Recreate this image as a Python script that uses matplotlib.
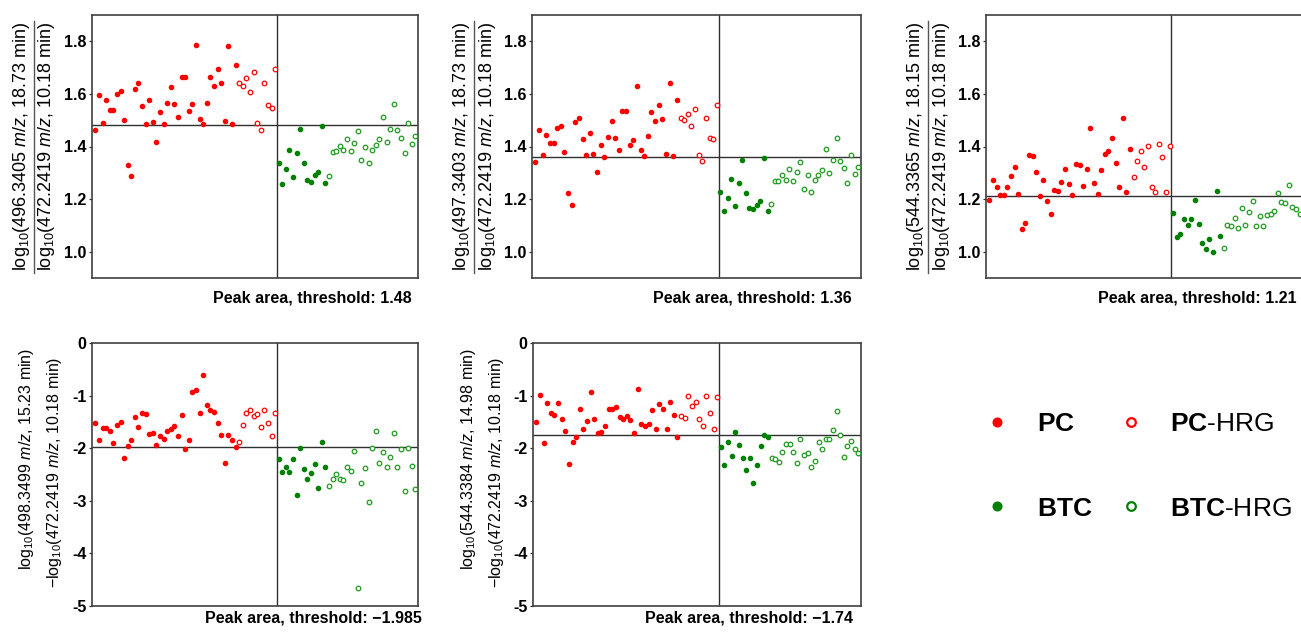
import numpy as np
import matplotlib
matplotlib.use("Agg")
import matplotlib.pyplot as plt
from matplotlib.lines import Line2D

plt.rcParams['font.family'] = ['Liberation Sans', 'DejaVu Sans']
plt.rcParams['mathtext.fontset'] = 'custom'
plt.rcParams['mathtext.rm'] = 'Liberation Sans'
plt.rcParams['mathtext.it'] = 'Liberation Sans:italic'
plt.rcParams['mathtext.bf'] = 'Liberation Sans:bold'
plt.rcParams['axes.unicode_minus'] = False

# ---- data ----
# panel 1 : 496.3405 m/z
p1_pc = [1.462, 1.594, 1.490, 1.578, 1.540, 1.538, 1.601, 1.611, 1.500, 1.331,
         1.286, 1.620, 1.641, 1.555, 1.486, 1.577, 1.495, 1.419, 1.530, 1.485,
         1.565, 1.627, 1.563, 1.514, 1.666, 1.666, 1.535, 1.561, 1.785, 1.505,
         1.486, 1.565, 1.664, 1.631, 1.695, 1.640, 1.496, 1.781, 1.485, 1.710]
p1_pc_hrg = [1.641, 1.630, 1.659, 1.607, 1.684, 1.490, 1.463, 1.641, 1.559, 1.546, 1.695]
p1_btc = [1.338, 1.259, 1.314, 1.387, 1.283, 1.375, 1.468, 1.336, 1.273, 1.265,
          1.290, 1.304, 1.478, 1.262]
p1_btc_hrg = [1.289, 1.379, 1.382, 1.403, 1.387, 1.429, 1.381, 1.413, 1.458, 1.348,
              1.400, 1.336, 1.387, 1.406, 1.430, 1.512, 1.419, 1.468, 1.560, 1.462,
              1.433, 1.375, 1.490, 1.409, 1.439]

# panel 2 : 497.3403 m/z
p2_pc = [1.342, 1.463, 1.366, 1.445, 1.413, 1.413, 1.472, 1.478, 1.379, 1.223,
         1.177, 1.493, 1.510, 1.430, 1.368, 1.452, 1.373, 1.304, 1.405, 1.361,
         1.437, 1.496, 1.433, 1.386, 1.535, 1.535, 1.404, 1.423, 1.630, 1.386,
         1.365, 1.439, 1.532, 1.496, 1.558, 1.506, 1.373, 1.640, 1.365, 1.575]
p2_pc_hrg = [1.507, 1.501, 1.525, 1.477, 1.544, 1.368, 1.343, 1.507, 1.432, 1.429, 1.559]
p2_btc = [1.226, 1.153, 1.204, 1.275, 1.175, 1.261, 1.348, 1.223, 1.165, 1.163,
          1.178, 1.192, 1.357, 1.155]
p2_btc_hrg = [1.180, 1.268, 1.269, 1.291, 1.273, 1.315, 1.269, 1.304, 1.341, 1.240,
              1.290, 1.228, 1.274, 1.291, 1.310, 1.390, 1.300, 1.350, 1.433, 1.343,
              1.317, 1.260, 1.367, 1.295, 1.322]

# panel 3 : 544.3365 m/z (right part cut off in the picture)
p3_pc = [1.198, 1.274, 1.246, 1.217, 1.217, 1.245, 1.288, 1.321, 1.219, 1.087,
         1.110, 1.369, 1.363, 1.302, 1.212, 1.273, 1.192, 1.145, 1.236, 1.232,
         1.265, 1.313, 1.259, 1.216, 1.333, 1.329, 1.250, 1.314, 1.472, 1.261,
         1.218, 1.309, 1.370, 1.381, 1.433, 1.339, 1.245, 1.507, 1.226, 1.391]
p3_pc_hrg = [1.284, 1.346, 1.382, 1.323, 1.401, 1.246, 1.227, 1.409, 1.360, 1.227, 1.403]
p3_btc = [1.146, 1.057, 1.069, 1.124, 1.101, 1.125, 1.197, 1.104, 1.034, 1.011,
          1.049, 1.000, 1.232, 1.058]
p3_btc_hrg = [1.014, 1.102, 1.097, 1.129, 1.090, 1.167, 1.102, 1.151, 1.193, 1.097,
              1.136, 1.097, 1.139, 1.143, 1.154, 1.222, 1.188, 1.186, 1.252, 1.169,
              1.164, 1.143]

# panel 4 : 498.3499 m/z
p4_pc = [-1.523, -1.840, -1.618, -1.624, -1.669, -1.904, -1.561, -1.497, -2.189, -1.967,
         -1.846, -1.402, -1.605, -1.339, -1.358, -1.726, -1.707, -1.935, -1.777, -1.821,
         -1.675, -1.643, -1.580, -1.770, -1.377, -2.011, -1.840, -0.933, -0.901, -1.339,
         -0.615, -1.174, -1.269, -1.313, -1.516, -1.745, -2.272, -1.745, -1.846, -1.986]
p4_pc_hrg = [-1.891, -1.561, -1.326, -1.282, -1.396, -1.345, -1.605, -1.269, -1.529, -1.777, -1.326]
p4_btc = [-2.202, -2.443, -2.348, -2.449, -2.208, -2.881, -1.992, -2.398, -2.595, -2.462,
          -2.291, -2.760, -1.891, -2.348]
p4_btc_hrg = [-2.728, -2.589, -2.487, -2.595, -2.608, -2.348, -2.424, -2.049, -4.664, -2.665,
              -2.373, -3.027, -1.992, -1.669, -2.284, -2.075, -2.348, -2.170, -1.713, -2.348,
              -2.018, -2.817, -1.992, -2.341, -2.779]

# panel 5 : 544.3384 m/z
p5_pc = [-1.504, -0.996, -1.910, -1.148, -1.332, -1.377, -1.142, -1.447, -1.669, -2.297,
         -1.885, -1.783, -1.256, -1.643, -1.478, -0.926, -1.440, -1.720, -1.694, -1.580,
         -1.256, -1.256, -1.218, -1.409, -1.447, -1.390, -1.472, -1.720, -0.882, -1.542,
         -1.586, -1.548, -1.282, -1.631, -1.155, -1.250, -1.643, -1.129, -1.377, -1.783]
p5_pc_hrg = [-1.383, -1.434, -1.003, -1.199, -1.117, -1.447, -1.574, -1.009, -1.326, -1.637, -1.022]
p5_btc = [-1.986, -2.310, -1.891, -2.145, -1.694, -1.935, -2.189, -2.411, -2.183, -2.659,
          -2.322, -1.954, -1.758, -1.796]
p5_btc_hrg = [-2.183, -2.208, -2.253, -2.069, -1.916, -1.916, -2.081, -2.284, -1.834, -2.126,
              -2.094, -2.348, -2.240, -1.885, -2.018, -1.834, -1.834, -1.650, -1.294, -1.745,
              -2.176, -1.967, -1.872, -2.011, -2.100]

thresholds = [1.48, 1.36, 1.21, -1.985, -1.74]
threshold_text = ['1.48', '1.36', '1.21', '\u22121.985', '\u22121.74']
numerators = ['496.3405 $\\mathit{m/z}$, 18.73 min', '497.3403 $\\mathit{m/z}$, 18.73 min',
              '544.3365 $\\mathit{m/z}$, 18.15 min', '498.3499 $\\mathit{m/z}$, 15.23 min',
              '544.3384 $\\mathit{m/z}$, 14.98 min']
denominator = '472.2419 $\\mathit{m/z}$, 10.18 min'

panels = [(p1_pc, p1_pc_hrg, p1_btc, p1_btc_hrg),
          (p2_pc, p2_pc_hrg, p2_btc, p2_btc_hrg),
          (p3_pc, p3_pc_hrg, p3_btc, p3_btc_hrg),
          (p4_pc, p4_pc_hrg, p4_btc, p4_btc_hrg),
          (p5_pc, p5_pc_hrg, p5_btc, p5_btc_hrg)]

RED = '#ff0000'
GREEN = '#008000'
W, H = 1301, 636

# axes boxes in pixels: left, top, width, height ; and x of threshold text end
boxes = [(92, 15, 326, 263), (532, 15, 329, 263), (986, 15, 327, 263),
         (92, 343, 326, 263), (533, 343, 328, 263)]
text_end = [0.979, 0.973, 0.951, 1.012, 0.976]

fig = plt.figure(figsize=(W / 100, H / 100), dpi=100)

for i, (pc, pch, btc, btch) in enumerate(panels):
    l, t, w, h = boxes[i]
    ax = fig.add_axes([l / W, (H - t - h) / H, w / W, h / H])
    n1 = len(pc) + len(pch)
    x_pc = np.arange(len(pc))
    x_pch = np.arange(len(pc), n1)
    x_btc = np.arange(n1, n1 + len(btc))
    x_btch = np.arange(n1 + len(btc), n1 + len(btc) + len(btch))

    ax.axvline(n1 - 0.5, color='#303030', lw=1.0, zorder=1)
    ax.axhline(thresholds[i], color='#303030', lw=1.0, zorder=1)

    ax.plot(x_pc, pc, 'o', ms=3.0, color=RED, mec=RED, zorder=3)
    ax.plot(x_pch, pch, 'o', ms=3.3, mfc='white', mec=RED, mew=0.9, zorder=3)
    ax.plot(x_btc, btc, 'o', ms=3.0, color=GREEN, mec=GREEN, zorder=3)
    ax.plot(x_btch, btch, 'o', ms=3.3, mfc='white', mec='#1f9a1f', mew=0.9, zorder=3)

    ax.set_xlim(-0.93, 89.74)
    ax.set_xticks([])
    if i < 3:
        ax.set_ylim(0.9, 1.9)
        yt = [1.0, 1.2, 1.4, 1.6, 1.8]
        ax.set_yticks(yt)
        ax.set_yticklabels(['%.1f' % v for v in yt])
    else:
        ax.set_ylim(-5, 0)
        yt = [0, -1, -2, -3, -4, -5]
        ax.set_yticks(yt)
        ax.set_yticklabels(['%d' % v for v in yt])
    ax.tick_params(axis='y', direction='out', length=2.5, width=0.9,
                   pad=1.5, labelsize=11.5, colors='#303030', labelcolor='black')
    for lab in ax.get_yticklabels():
        lab.set_fontweight('bold')
    for s in ax.spines.values():
        s.set_color('#404040')
        s.set_linewidth(1.2)

    if i < 3:
        ax.text(-70 / w, 0.5, 'log$_{10}$(' + numerators[i] + ')', transform=ax.transAxes,
                rotation=90, ha='center', va='center', fontsize=13)
        ax.text(-45 / w, 0.5, 'log$_{10}$(' + denominator + ')', transform=ax.transAxes,
                rotation=90, ha='center', va='center', fontsize=13)
        ax.add_line(Line2D([-58 / w, -58 / w], [0.019, 0.977], transform=ax.transAxes,
                           color='#555555', lw=1.0, clip_on=False))
        ty = -20 / h
    else:
        ax.text(-65 / w, 0.559, 'log$_{10}$(' + numerators[i] + ')', transform=ax.transAxes,
                rotation=90, ha='center', va='center', fontsize=11.5)
        ax.text(-37 / w, 0.51, '\u2212log$_{10}$(' + denominator + ')', transform=ax.transAxes,
                rotation=90, ha='center', va='center', fontsize=11.5)
        ty = -12 / h
    ax.text(text_end[i], ty, 'Peak area, threshold: ' + threshold_text[i],
            transform=ax.transAxes, ha='right', va='center',
            fontsize=11.5, fontweight='bold', clip_on=False)

# legend
handles = [Line2D([], [], ls='none', marker='o', ms=6.2, color=RED),
           Line2D([], [], ls='none', marker='o', ms=6.2, color=GREEN),
           Line2D([], [], ls='none', marker='o', ms=6.2, mfc='white', mec=RED, mew=1.6),
           Line2D([], [], ls='none', marker='o', ms=6.2, mfc='white', mec=GREEN, mew=1.6)]
labels = [r'$\mathbf{PC}$', r'$\mathbf{BTC}$', r'$\mathbf{PC}$-HRG', r'$\mathbf{BTC}$-HRG']
fig.legend(handles, labels, ncol=2, loc='upper left',
           bbox_to_anchor=(984 / W, (H - 412) / H), frameon=False,
           fontsize=19, handlelength=1.0, handletextpad=1.0,
           columnspacing=0.95, labelspacing=2.3, borderpad=0, borderaxespad=0)

fig.savefig('out.png', dpi=100)
